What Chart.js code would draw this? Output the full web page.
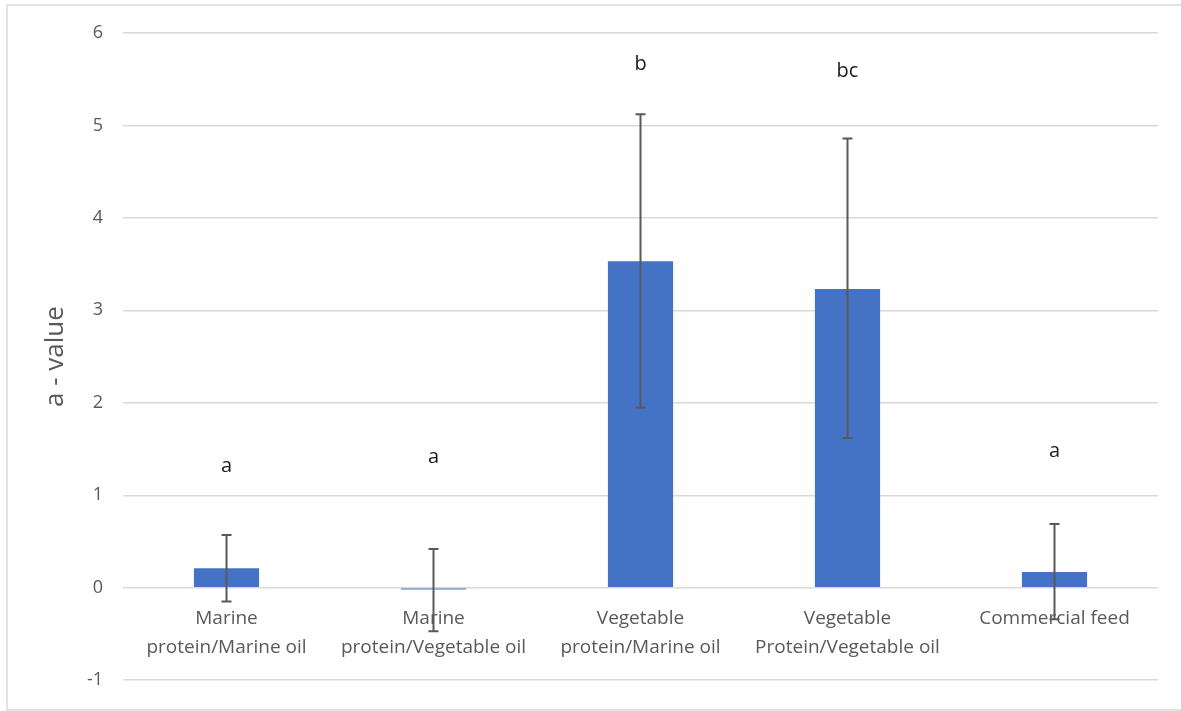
<!DOCTYPE html>
<html>
<head>
<meta charset="utf-8">
<script src="https://cdn.jsdelivr.net/npm/chart.js@4/dist/chart.umd.min.js"></script>
<style>
  html, body { margin: 0; padding: 0; background: #fff; }
  #wrap { width: 1181px; height: 711px; position: relative; }
</style>
</head>
<body>
<div id="wrap"><canvas id="chart" width="1181" height="711"></canvas></div>
<script>
// ---------- DATA ----------
const categories = [
    ["Marine", "protein/Marine oil"],
    ["Marine", "protein/Vegetable oil"],
    ["Vegetable", "protein/Marine oil"],
    ["Vegetable", "Protein/Vegetable oil"],
    ["Commercial feed"]
];
const means = [0.21, -0.02, 3.53, 3.23, 0.17];
const errLow = [-0.15, -0.47, 1.95, 1.62, -0.34];
const errHigh = [0.57, 0.42, 5.12, 4.86, 0.69];
const groupLetters = ["a", "a", "b", "bc", "a"];
const letterY = [1.31, 1.41, 5.66, 5.59, 1.48];
const yTicks = [-1, 0, 1, 2, 3, 4, 5, 6];

const FONT = "'Open Sans', Lato, sans-serif";
const GREY = "#595959";

// ---------- PLUGINS ----------
const frame = {
    id: "frame",
    beforeDraw(chart) {
        const ctx = chart.ctx;
        ctx.save();
        ctx.strokeStyle = "#d9d9d9";
        ctx.lineWidth = 1.5;
        ctx.strokeRect(7, 5, 1200, 705);
        ctx.restore();
    }
};

const errorBars = {
    id: "errorBars",
    afterDatasetsDraw(chart) {
        const ctx = chart.ctx;
        const meta = chart.getDatasetMeta(0);
        const y = chart.scales.y;
        ctx.save();
        ctx.strokeStyle = GREY;
        ctx.lineWidth = 2;
        meta.data.forEach((bar, i) => {
            const x = bar.x;
            const top = y.getPixelForValue(errHigh[i]);
            const bot = y.getPixelForValue(errLow[i]);
            ctx.beginPath();
            ctx.moveTo(x, top); ctx.lineTo(x, bot);
            ctx.moveTo(x - 5, top); ctx.lineTo(x + 5, top);
            ctx.moveTo(x - 5, bot); ctx.lineTo(x + 5, bot);
            ctx.stroke();
        });
        // group letters
        ctx.fillStyle = "#1a1a1a";
        ctx.font = "20px " + FONT;
        ctx.textAlign = "center";
        ctx.textBaseline = "middle";
        meta.data.forEach((bar, i) => {
            ctx.fillText(groupLetters[i], bar.x, y.getPixelForValue(letterY[i]));
        });
        ctx.restore();
    }
};

// ---------- CHART ----------
new Chart(document.getElementById("chart"), {
    type: "bar",
    data: {
        labels: categories,
        datasets: [{
            data: means,
            backgroundColor: "#4472c4",
            borderWidth: 0,
            barPercentage: 0.315,
            categoryPercentage: 1
        }]
    },
    options: {
        responsive: false,
        animation: false,
        layout: { padding: { left: 40, top: 33, right: 23, bottom: 28 } },
        plugins: { legend: { display: false }, tooltip: { enabled: false } },
        scales: {
            x: {
                position: { y: 0 },
                grid: { display: false },
                border: { display: false },
                ticks: {
                    color: GREY,
                    font: { family: FONT, size: 19, lineHeight: 1.5 },
                    padding: 9,
                    maxRotation: 0,
                    autoSkip: false
                }
            },
            y: {
                min: -1,
                max: 6,
                afterFit(scale) { scale.width = 83; },
                afterBuildTicks(scale) { scale.ticks = yTicks.map(v => ({ value: v })); },
                grid: { color: "#d9d9d9", lineWidth: 1.5, drawTicks: false },
                border: { display: false },
                ticks: {
                    color: GREY,
                    font: { family: FONT, size: 18 },
                    padding: 20
                },
                title: {
                    display: true,
                    text: "a - value",
                    color: GREY,
                    font: { family: FONT, size: 26 },
                    padding: 0
                }
            }
        }
    },
    plugins: [frame, errorBars]
});
</script>
</body>
</html>
